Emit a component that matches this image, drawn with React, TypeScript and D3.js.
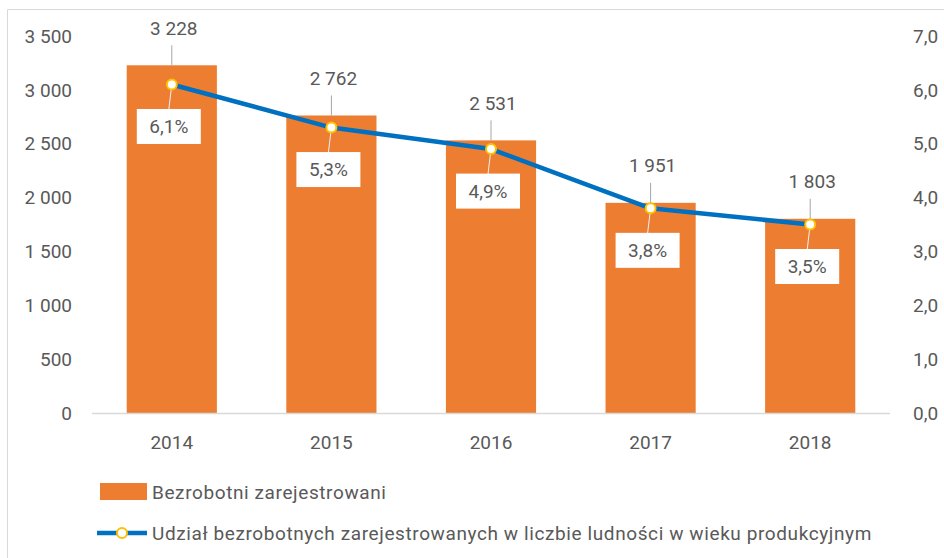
import React from "react";
import * as d3 from "d3";

const years = ["2014", "2015", "2016", "2017", "2018"];
const unemployed = [3228, 2762, 2531, 1951, 1803];
const share = [6.1, 5.3, 4.9, 3.8, 3.5];
const leftTicks = [0, 500, 1000, 1500, 2000, 2500, 3000, 3500];
const rightTicks = [0, 1, 2, 3, 4, 5, 6, 7];
const barName = "Bezrobotni zarejestrowani";
const lineName = "Udział bezrobotnych zarejestrowanych w liczbie ludności w wieku produkcyjnym";

const W = 944;
const H = 558;
const FONT = "Roboto, 'Liberation Sans', sans-serif";
const TXT = "#595959";
const ORANGE = "#ED7D31";
const BLUE = "#0070C0";
const MARK = "#FFC000";

const fmtInt = (v: number) => {
  const s = String(Math.round(v));
  return s.replace(/\B(?=(\d{3})+(?!\d))/g, " ");
};
const fmtPct = (v: number) => v.toFixed(1).replace(".", ",") + "%";
const fmtRight = (v: number) => v.toFixed(1).replace(".", ",");

export default function App() {
  const left = 92, right = 890, top = 36, bottom = 413;
  const x = d3.scaleBand<string>().domain(years).range([left, right]).paddingInner(0.435).paddingOuter(0.2175);
  const yL = d3.scaleLinear().domain([0, 3500]).range([bottom, top]);
  const yR = d3.scaleLinear().domain([0, 7]).range([bottom, top]);
  const cx = (i: number) => (x(years[i]) as number) + x.bandwidth() / 2;

  const line = d3.line<number>().x((_, i) => cx(i)).y((d) => yR(d));

  return (
    <svg width={W} height={H} style={{ position: "absolute", left: 0, top: 0, background: "#fff" }} fontFamily={FONT}>
      <rect x={0} y={0} width={W} height={H} fill="#fff" />
      <line x1={7.5} y1={9.5} x2={W} y2={9.5} stroke="#d9d9d9" />
      <line x1={7.5} y1={9.5} x2={7.5} y2={H} stroke="#d9d9d9" />

      {leftTicks.map((t) => (
        <text key={"l" + t} x={72} y={yL(t)} dy="0.35em" textAnchor="end" fontSize={19} fill={TXT}>
          {fmtInt(t)}
        </text>
      ))}
      {rightTicks.map((t) => (
        <text key={"r" + t} x={913} y={yR(t)} dy="0.35em" textAnchor="start" fontSize={19} fill={TXT}>
          {fmtRight(t)}
        </text>
      ))}

      {unemployed.map((v, i) => (
        <rect key={"b" + i} x={x(years[i])} y={yL(v)} width={x.bandwidth()} height={bottom - yL(v)} fill={ORANGE} />
      ))}

      <line x1={left} x2={right} y1={bottom + 0.5} y2={bottom + 0.5} stroke="#d9d9d9" strokeWidth={1.5} />

      {years.map((yr, i) => (
        <text key={"x" + yr} x={cx(i)} y={442} dy="0.35em" textAnchor="middle" fontSize={19} fill={TXT}>
          {yr}
        </text>
      ))}

      {unemployed.map((v, i) => (
        <g key={"bl" + i}>
          <line x1={cx(i)} x2={cx(i)} y1={yL(v) - 20} y2={yL(v)} stroke="#a6a6a6" strokeWidth={1} />
          <text x={cx(i) + 2} y={yL(v) - 37} dy="0.35em" textAnchor="middle" fontSize={19} fill={TXT}>
            {fmtInt(v)}
          </text>
        </g>
      ))}

      <path d={line(share) || ""} fill="none" stroke={BLUE} strokeWidth={4.5} strokeLinejoin="round" />

      {share.map((v, i) => {
        const px = cx(i);
        const py = yR(v);
        const bx = px - 3;
        const by = py + 42;
        return (
          <g key={"p" + i}>
            <line x1={px} y1={py} x2={bx} y2={by - 17} stroke="#f2f2f2" strokeWidth={1} />
            <rect x={bx - 32} y={by - 17.5} width={64} height={35} fill="#fff" />
            <text x={bx} y={by} dy="0.35em" textAnchor="middle" fontSize={19} fill={TXT}>
              {fmtPct(v)}
            </text>
          </g>
        );
      })}

      {share.map((v, i) => (
        <circle key={"m" + i} cx={cx(i)} cy={yR(v)} r={5} fill="#fff" stroke={MARK} strokeWidth={2} />
      ))}

      <rect x={100} y={483} width={47} height={17} fill={ORANGE} />
      <text x={152} y={492} dy="0.35em" fontSize={19} letterSpacing={0.6} fill={TXT}>{barName}</text>

      <line x1={97} x2={147} y1={533} y2={533} stroke={BLUE} strokeWidth={4.5} />
      <circle cx={122} cy={533} r={5} fill="#fff" stroke={MARK} strokeWidth={2} />
      <text x={152} y={533} dy="0.35em" fontSize={19} letterSpacing={0.6} fill={TXT}>{lineName}</text>
    </svg>
  );
}
